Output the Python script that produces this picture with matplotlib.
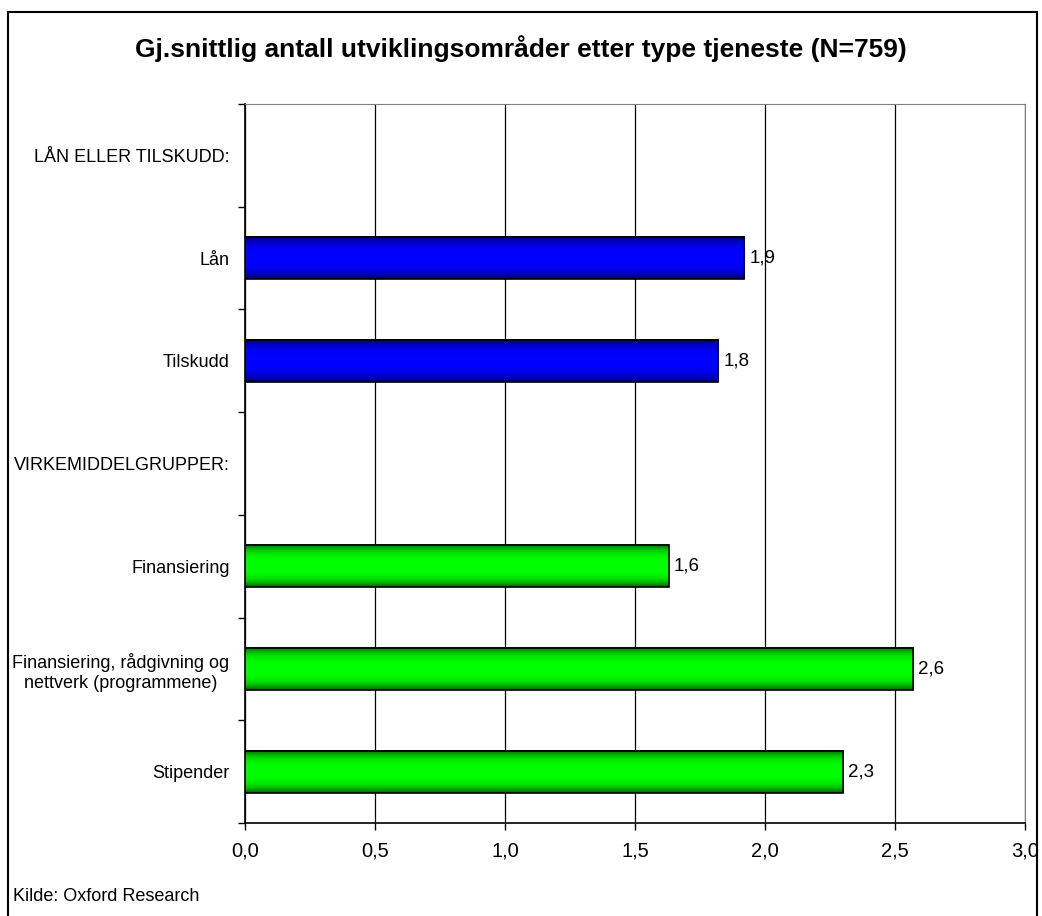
import numpy as np
import matplotlib.pyplot as plt
from matplotlib.patches import Rectangle

plt.rcParams['font.family'] = ['Liberation Sans', 'DejaVu Sans']

# Kategorier ovenfra og ned (overskrifter uten verdi)
kategorier = ['LÅN ELLER TILSKUDD:', 'Lån', 'Tilskudd', 'VIRKEMIDDELGRUPPER:',
              'Finansiering', 'Finansiering, rådgivning og\nnettverk (programmene)',
              'Stipender']
verdier = [np.nan, 1.92, 1.82, np.nan, 1.63, 2.57, 2.30]
grupper = ['', 'laan', 'laan', '', 'virk', 'virk', 'virk']

farger = {'laan': (0.0, 0.0, 1.0), 'virk': (0.0, 1.0, 0.0)}

fig = plt.figure(figsize=(10.42, 9.16), dpi=100)
ax = fig.add_axes([0.235, 0.1015, 0.7487, 0.785])

y = np.arange(len(kategorier))
h = 0.41

# Vertikal gradient: mørk i kantene, lys i midten
t = np.linspace(0, 1, 64)
lys = 0.38 + 0.62 * (1 - np.abs(2 * t - 1) ** 3.2)

for yi, v, g in zip(y, verdier, grupper):
    if np.isnan(v):
        continue
    base = np.array(farger[g])
    img = lys[:, None, None] * base[None, None, :]
    ax.imshow(img, extent=[0, v, yi + h / 2, yi - h / 2], aspect='auto',
              interpolation='bilinear', zorder=3)
    ax.add_patch(Rectangle((0, yi - h / 2), v, h, fill=False,
                           edgecolor='black', linewidth=1.2, zorder=4))
    ax.text(v + 0.02, yi, f'{v:.1f}'.replace('.', ','), va='center',
            ha='left', fontsize=13.5, zorder=5)

ax.set_xlim(0, 3.0)
ax.set_ylim(len(kategorier) - 0.5, -0.5)

ax.set_xticks(np.arange(0, 3.01, 0.5))
ax.set_xticklabels([f'{x:.1f}'.replace('.', ',') for x in np.arange(0, 3.01, 0.5)],
                   fontsize=14.5)
ax.xaxis.grid(True, color='black', linewidth=0.9, zorder=1)
ax.set_axisbelow(True)
ax.tick_params(axis='x', direction='out', length=5, width=1, pad=8)

ax.set_yticks(y)
ax.set_yticklabels(kategorier, fontsize=13)
for lab in ax.get_yticklabels():
    lab.set_multialignment('center')
ax.set_yticks(np.arange(-0.5, len(kategorier)), minor=True)
ax.tick_params(axis='y', which='major', length=0, pad=11)
ax.tick_params(axis='y', which='minor', direction='out', length=5, width=1)

ax.spines['top'].set_color('#808080')
ax.spines['right'].set_color('#808080')
ax.spines['left'].set_linewidth(1.2)
ax.spines['bottom'].set_linewidth(1.2)

fig.text(0.5, 0.947, 'Gj.snittlig antall utviklingsområder etter type tjeneste (N=759)',
         ha='center', va='center', fontsize=19, fontweight='bold')
fig.text(0.012, 0.021, 'Kilde: Oxford Research', ha='left', va='center', fontsize=13)

# Ramme rundt hele figuren
fig.add_artist(Rectangle((0.008, -0.01), 0.987, 0.997, transform=fig.transFigure,
                         fill=False, edgecolor='black', linewidth=1.5))

fig.savefig('out.png', dpi=100)
